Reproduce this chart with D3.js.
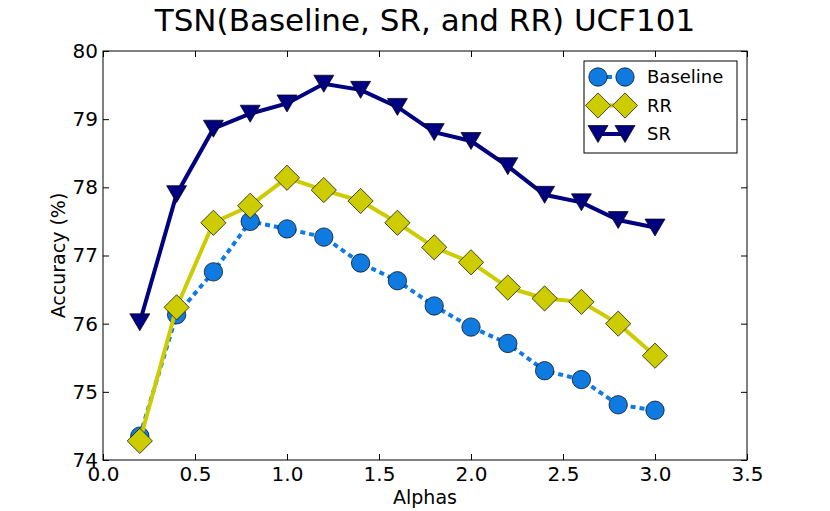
<!DOCTYPE html>
<html>
<head>
<meta charset="utf-8">
<style>
  body { margin: 0; background: #fff; }
  svg { display: block; font-family: "DejaVu Sans", sans-serif; }
</style>
<script src="https://d3js.org/d3.v7.min.js"></script>
</head>
<body>
<svg width="830" height="511"></svg>
<script>
var alphas = [0.2, 0.4, 0.6, 0.8, 1.0, 1.2, 1.4, 1.6, 1.8, 2.0, 2.2, 2.4, 2.6, 2.8, 3.0];
var baseline = [74.35, 76.13, 76.76, 77.50, 77.39, 77.27, 76.89, 76.63, 76.26, 75.95, 75.71, 75.31, 75.18, 74.81, 74.73];
var rr = [74.28, 76.24, 77.48, 77.73, 78.14, 77.96, 77.80, 77.48, 77.12, 76.90, 76.53, 76.37, 76.32, 76.00, 75.53];
var sr = [76.02, 77.90, 78.86, 79.08, 79.23, 79.52, 79.43, 79.18, 78.81, 78.68, 78.31, 77.89, 77.78, 77.52, 77.41];
var xTicks = [0.0, 0.5, 1.0, 1.5, 2.0, 2.5, 3.0, 3.5];
var yTicks = [74, 75, 76, 77, 78, 79, 80];

var svg = d3.select("svg");
var margin = {top: 51, right: 83, bottom: 51, left: 103};
var width = 830 - margin.left - margin.right,
    height = 511 - margin.top - margin.bottom;

var x = d3.scaleLinear().domain([0, 3.5]).range([0, width]);
var y = d3.scaleLinear().domain([74, 80]).range([height, 0]);

var g = svg.append("g").attr("transform", "translate(" + margin.left + "," + margin.top + ")");

// title
svg.append("text")
  .attr("x", margin.left + width / 2)
  .attr("y", 31)
  .attr("text-anchor", "middle")
  .attr("font-size", 31)
  .text("TSN(Baseline, SR, and RR) UCF101");

// axes, ticks pointing inward like matplotlib classic
function tickStyle(sel) {
  sel.select(".domain").remove();
  sel.selectAll("line").attr("stroke", "#000");
  sel.selectAll("text").attr("font-size", 20).attr("fill", "#000").attr("font-family", "DejaVu Sans");
}
g.append("g")
  .attr("transform", "translate(0," + height + ")")
  .call(d3.axisBottom(x).tickValues(xTicks).tickFormat(d3.format(".1f")).tickSizeInner(-6).tickSizeOuter(0).tickPadding(7))
  .call(tickStyle);
g.append("g")
  .call(d3.axisTop(x).tickValues(xTicks).tickFormat("").tickSizeInner(-6).tickSizeOuter(0))
  .call(tickStyle);
g.append("g")
  .call(d3.axisLeft(y).tickValues(yTicks).tickFormat(d3.format("d")).tickSizeInner(-6).tickSizeOuter(0).tickPadding(5))
  .call(tickStyle);
g.append("g")
  .attr("transform", "translate(" + width + ",0)")
  .call(d3.axisRight(y).tickValues(yTicks).tickFormat("").tickSizeInner(-6).tickSizeOuter(0))
  .call(tickStyle);

g.append("text")
  .attr("x", width / 2)
  .attr("y", height + 44)
  .attr("text-anchor", "middle")
  .attr("font-size", 19)
  .text("Alphas");
g.append("text")
  .attr("transform", "translate(-38," + (height / 2) + ") rotate(-90)")
  .attr("text-anchor", "middle")
  .attr("font-size", 19)
  .text("Accuracy (%)");

var series = [
  {name: "Baseline", values: baseline, color: "#0f7be0", dash: "5,4", marker: "circle"},
  {name: "RR", values: rr, color: "#cccc00", dash: null, marker: "diamond"},
  {name: "SR", values: sr, color: "#000080", dash: null, marker: "triangle"}
];

var markerPath = {
  circle: "M9.2,0A9.2,9.2 0 1,1 -9.2,0A9.2,9.2 0 1,1 9.2,0Z",
  diamond: "M0,-12.6L12.6,0L0,12.6L-12.6,0Z",
  triangle: "M-10,-8.5L10,-8.5L0,8.5Z"
};

var line = d3.line()
  .x(function(d) { return x(d[0]); })
  .y(function(d) { return y(d[1]); });

var plot = g.append("g");
series.forEach(function(s) {
  var pts = alphas.map(function(a, i) { return [a, s.values[i]]; });
  plot.append("path")
    .datum(pts)
    .attr("d", line)
    .attr("fill", "none")
    .attr("stroke", s.color)
    .attr("stroke-width", 4)
    .attr("stroke-dasharray", s.dash);
  plot.selectAll(null)
    .data(pts)
    .enter().append("path")
    .attr("d", markerPath[s.marker])
    .attr("transform", function(d) { return "translate(" + x(d[0]) + "," + y(d[1]) + ")"; })
    .attr("fill", s.color)
    .attr("stroke", "#000")
    .attr("stroke-width", 0.7);
});

// frame
g.append("rect")
  .attr("width", width).attr("height", height)
  .attr("fill", "none").attr("stroke", "#000").attr("stroke-width", 1);

// legend
var lg = g.append("g").attr("transform", "translate(" + (584 - margin.left) + "," + (61 - margin.top) + ")");
lg.append("rect")
  .attr("width", 153).attr("height", 92)
  .attr("fill", "#fff").attr("stroke", "#000").attr("stroke-width", 1);
series.forEach(function(s, i) {
  var row = lg.append("g").attr("transform", "translate(0," + (16 + i * 28.5) + ")");
  row.append("line")
    .attr("x1", 14).attr("x2", 41)
    .attr("stroke", s.color).attr("stroke-width", 4)
    .attr("stroke-dasharray", s.dash ? "5,4" : null);
  [14, 41].forEach(function(cx) {
    row.append("path")
      .attr("d", markerPath[s.marker])
      .attr("transform", "translate(" + cx + ",0)")
      .attr("fill", s.color)
      .attr("stroke", "#000")
      .attr("stroke-width", 0.7);
  });
  row.append("text")
    .attr("x", 63)
    .attr("dy", "0.35em")
    .attr("font-size", 18)
    .text(s.name);
});
</script>
</body>
</html>
